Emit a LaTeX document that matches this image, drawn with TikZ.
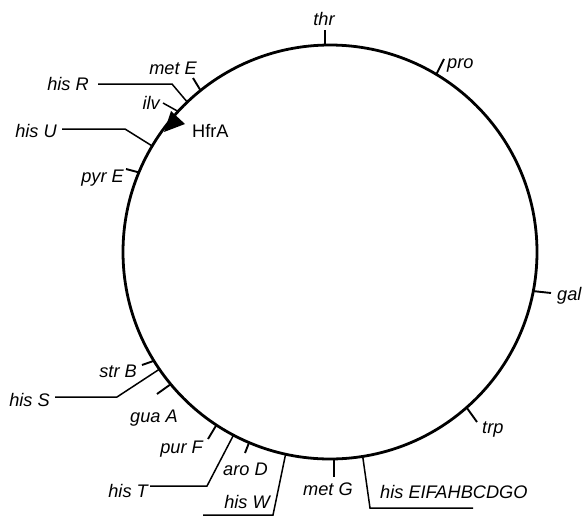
\documentclass[tikz,border=0pt]{standalone}
\usepackage{fontspec}
\setmainfont{Liberation Sans}
\begin{document}
\begin{tikzpicture}[x=1pt,y=-1pt,
  lbl/.style={font=\fontsize{18.2}{20}\selectfont\itshape, inner sep=0pt},
  tickline/.style={line width=1.9pt},
  leadline/.style={line width=1.5pt, line join=miter},
  ring/.style={line width=2.8pt}]
\useasboundingbox (0,0) rectangle (583,517);
\coordinate (C) at (330,252);
\draw[ring] (C) circle[radius=207pt];

% points on the circle
\coordinate (thr-c) at (325,45);
\coordinate (pro-c) at (436.3,74.4);
\coordinate (gal-c) at (533.3,291.1);
\coordinate (trp-c) at (466.6,407.5);
\coordinate (hisE-c) at (362.7,456.4);
\coordinate (metG-c) at (334,459);
\coordinate (hisW-c) at (285.6,454.2);
\coordinate (aroD-c) at (249.1,442.5);
\coordinate (hisT-c) at (233.5,435.1);
\coordinate (purF-c) at (216.4,425);
\coordinate (guaA-c) at (170.7,384.2);
\coordinate (hisS-c) at (159.4,369.2);
\coordinate (strB-c) at (153.9,360.8);
\coordinate (pyrE-c) at (138.9,172.4);
\coordinate (hisU-c) at (152.2,146);
\coordinate (ilv-c) at (178.1,111.4);
\coordinate (hisR-c) at (187.3,102.1);
\coordinate (metE-c) at (200.6,90.5);

% outer ends
\coordinate (thr-e) at (325,30);
\coordinate (pro-e) at (444,59);
\coordinate (gal-e) at (551,293);
\coordinate (trp-e) at (477,422);
\coordinate (hisE-k) at (370,508);
\coordinate (hisE-e) at (473,508);
\coordinate (metG-e) at (334,477);
\coordinate (hisW-k) at (273,515);
\coordinate (hisW-e) at (203,515);
\coordinate (aroD-e) at (245,453);
\coordinate (hisT-k) at (207,486);
\coordinate (hisT-e) at (150,486);
\coordinate (purF-e) at (208,439);
\coordinate (guaA-e) at (157,394);
\coordinate (hisS-k) at (117,397);
\coordinate (hisS-e) at (55,397);
\coordinate (strB-e) at (142,365);
\coordinate (pyrE-e) at (126,169);
\coordinate (hisU-k) at (125,129);
\coordinate (hisU-e) at (62,129);
\coordinate (ilv-e) at (163,103);
\coordinate (hisR-k) at (172,84);
\coordinate (hisR-e) at (98,84);
\coordinate (metE-e) at (193,78);

% short ticks
\draw[tickline] (thr-c) -- (thr-e);
\draw[tickline] (pro-c) -- (pro-e);
\draw[tickline] (gal-c) -- (gal-e);
\draw[tickline] (trp-c) -- (trp-e);
\draw[tickline] (metG-c) -- (metG-e);
\draw[tickline] (aroD-c) -- (aroD-e);
\draw[tickline] (purF-c) -- (purF-e);
\draw[tickline] (guaA-c) -- (guaA-e);
\draw[tickline] (strB-c) -- (strB-e);
\draw[tickline] (pyrE-c) -- (pyrE-e);
\draw[tickline] (metE-c) -- (metE-e);
\draw[leadline] (ilv-c) -- (ilv-e);

% leader lines
\draw[leadline] (hisE-c) -- (hisE-k) -- (hisE-e);
\draw[leadline] (hisW-c) -- (hisW-k) -- (hisW-e);
\draw[leadline] (hisT-c) -- (hisT-k) -- (hisT-e);
\draw[leadline] (hisS-c) -- (hisS-k) -- (hisS-e);
\draw[leadline] (hisU-c) -- (hisU-k) -- (hisU-e);
\draw[leadline] (hisR-c) -- (hisR-k) -- (hisR-e);

% HfrA arrowhead
\coordinate (hfr-tip) at (164,132);
\coordinate (hfr-b1) at (171,111);
\coordinate (hfr-b2) at (185,124);
\fill (hfr-tip) -- (hfr-b1) -- (hfr-b2) -- cycle;

% labels
\node[lbl, anchor=base] (thr) at (324,25) {thr};
\node[lbl, anchor=base west] (pro) at (447,68) {pro};
\node[lbl, anchor=base west] (gal) at (557,300) {gal};
\node[lbl, anchor=base west] (trp) at (482,433) {trp};
\node[lbl, anchor=base west] (hisE) at (380,498) {his EIFAHBCDGO};
\node[lbl, anchor=base west] (metG) at (303,495) {met G};
\node[lbl, anchor=base east] (hisW) at (270,508) {his W};
\node[lbl, anchor=base west] (aroD) at (223,475) {aro D};
\node[lbl, anchor=base east] (hisT) at (148,497) {his T};
\node[lbl, anchor=base east] (purF) at (203,453) {pur F};
\node[lbl, anchor=base west] (guaA) at (130,422) {gua A};
\node[lbl, anchor=base east] (hisS) at (50,406) {his S};
\node[lbl, anchor=base east] (strB) at (137,377) {str B};
\node[lbl, anchor=base east] (pyrE) at (124,182) {pyr E};
\node[lbl, anchor=base east] (hisU) at (57,137) {his U};
\node[lbl, anchor=base east] (ilv) at (160,109) {ilv};
\node[lbl, anchor=base east] (hisR) at (89,90) {his R};
\node[lbl, anchor=base east] (metE) at (197,74) {met E};
\node[font=\fontsize{18.2}{20}\selectfont, inner sep=0pt, anchor=base west] (hfrA) at (192,137) {HfrA};
\end{tikzpicture}
\end{document}
